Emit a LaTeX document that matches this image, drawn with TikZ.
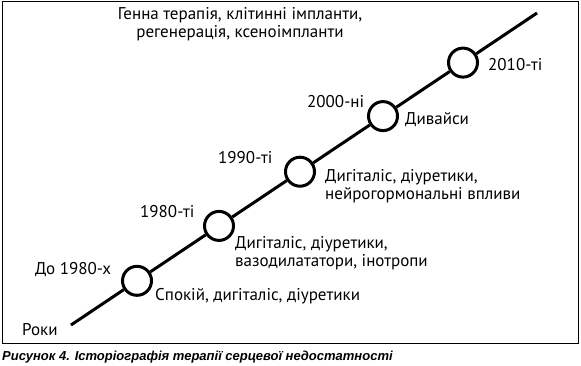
\documentclass[tikz,border=0pt]{standalone}
\usepackage{fontspec}
\setmainfont{PT Sans}
\newfontfamily\capfont{Liberation Sans}
\begin{document}
\begin{tikzpicture}[x=1pt,y=-1pt,
  stage/.style={circle, draw=black, line width=3pt, fill=white, minimum size=29pt, inner sep=0pt},
  lbl/.style={font=\fontsize{17}{18}\selectfont, text=black, inner sep=0pt, anchor=west, align=left},
  axisline/.style={line width=3pt, draw=black},
  frame/.style={line width=1pt, draw=black}]
\useasboundingbox (0,0) rectangle (581,365);
\draw[frame] (2,1) rectangle (578,343);
% timeline
\coordinate (start) at (71,325);
\coordinate (end) at (537,13);
\node[stage] (c1) at (137,280.8) {};
\node[stage] (c2) at (219,225.9) {};
\node[stage] (c3) at (300,171.7) {};
\node[stage] (c4) at (383,116.1) {};
\node[stage] (c5) at (463,62.6) {};
\draw[axisline] (start) -- (c1) -- (c2) -- (c3) -- (c4) -- (c5) -- (end);
% labels
\node[lbl] (roky) at (22,330) {Роки};
\node[lbl] (y1) at (35,270) {До 1980-х};
\node[lbl] (t1) at (155,296) {Спокій, дигіталіс, діуретики};
\node[lbl] (y2) at (140,212) {1980-ті};
\node[lbl] (t2) at (235,253) {Дигіталіс, діуретики,\\вазодилататори, інотропи};
\node[lbl] (y3) at (218,158) {1990-ті};
\node[lbl] (t3) at (325,186) {Дигіталіс, діуретики,\\нейрогормональні впливи};
\node[lbl] (y4) at (307,102) {2000-ні};
\node[lbl] (t4) at (405,120) {Дивайси};
\node[lbl] (y5) at (488,65) {2010-ті};
\node[lbl, anchor=center, align=center] (top) at (240,24.5) {Генна терапія, клітинні імпланти,\\регенерація, ксеноімпланти};
\node[inner sep=0pt, anchor=west, font=\capfont\bfseries\itshape\fontsize{13}{15}\selectfont] (cap) at (2,357.5) {Рисунок 4. Історіографія терапії серцевої недостатності};
\end{tikzpicture}
\end{document}
